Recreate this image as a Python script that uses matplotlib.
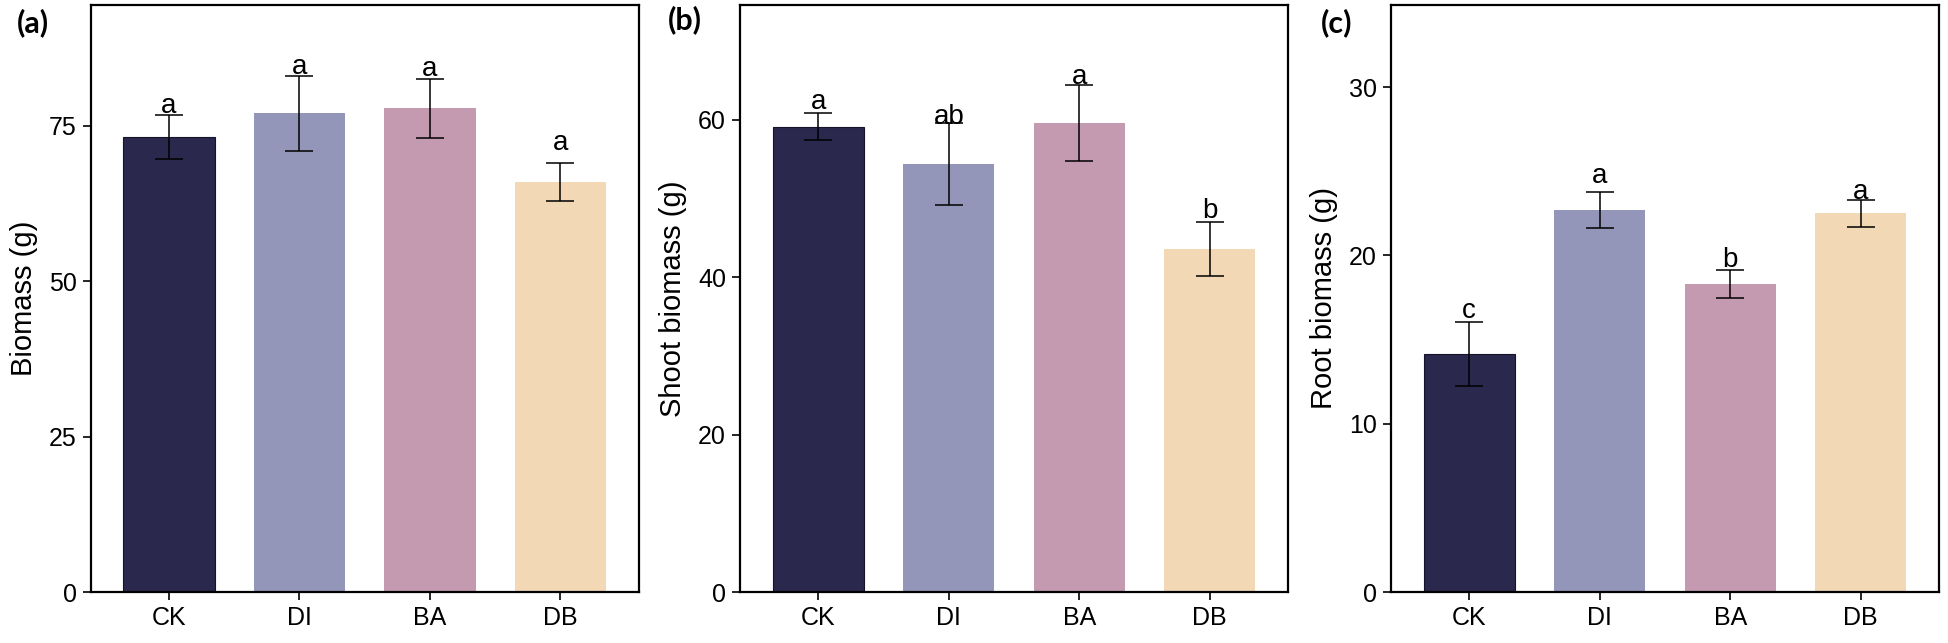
import numpy as np
import matplotlib
matplotlib.use("Agg")
import matplotlib.pyplot as plt

# --- данные ---
GROUPS = ["CK", "DI", "BA", "DB"]
COLORS = ["#2b284e", "#9396b9", "#c49ab1", "#f2d8b5"]
EDGES = ["#15132a", "none", "none", "none"]

TOTAL_MEAN = [73.2, 77.0, 77.8, 66.0]
TOTAL_SD = [3.5, 6.05, 4.8, 3.1]
TOTAL_LETTERS = ["a", "a", "a", "a"]
TOTAL_LETTER_Y = [78.2, 84.4, 84.1, 72.2]

SHOOT_MEAN = [59.1, 54.4, 59.6, 43.6]
SHOOT_SD = [1.7, 5.2, 4.85, 3.45]
SHOOT_LETTERS = ["a", "ab", "a", "b"]
SHOOT_LETTER_Y = [62.3, 60.3, 65.4, 48.4]

ROOT_MEAN = [14.15, 22.7, 18.3, 22.5]
ROOT_SD = [1.9, 1.07, 0.83, 0.82]
ROOT_LETTERS = ["c", "a", "b", "a"]
ROOT_LETTER_Y = [16.7, 24.7, 19.7, 23.75]

plt.rcParams["font.family"] = ["Liberation Sans", "DejaVu Sans"]

W, H = 1949, 643
fig = plt.figure(figsize=(W / 100, H / 100), dpi=100)

panels = [
    # (left px, mean, sd, letters, letter y, ylim, ticks, ylabel, tag, tag x, tag y)
    (90.7, TOTAL_MEAN, TOTAL_SD, TOTAL_LETTERS, TOTAL_LETTER_Y, 94.5, [0, 25, 50, 75],
     "Biomass (g)", "(a)", 17, 23),
    (740, SHOOT_MEAN, SHOOT_SD, SHOOT_LETTERS, SHOOT_LETTER_Y, 74.6, [0, 20, 40, 60],
     "Shoot biomass (g)", "(b)", 668, 20),
    (1391, ROOT_MEAN, ROOT_SD, ROOT_LETTERS, ROOT_LETTER_Y, 34.9, [0, 10, 20, 30],
     "Root biomass (g)", "(c)", 1321, 23),
]

bottom_px, top_px = 592, 4.7
ax_w = 548

for left, mean, sd, letters, ly, ytop, ticks, ylabel, tag, tx, ty in panels:
    ax = fig.add_axes([left / W, (H - bottom_px) / H, ax_w / W, (bottom_px - top_px) / H])
    x = np.arange(len(GROUPS))
    ax.bar(x, mean, width=0.7, color=COLORS, edgecolor=EDGES, linewidth=0.8, zorder=2)
    ax.errorbar(x, mean, yerr=sd, fmt="none", ecolor="black", elinewidth=1.1,
                capsize=10, capthick=1.1, zorder=3)
    for xi, lab, yy in zip(x, letters, ly):
        ax.text(xi, yy, lab, ha="center", va="center", fontsize=20, zorder=4)
    ax.set_xlim(-0.6, len(GROUPS) - 0.4)
    ax.set_ylim(0, ytop)
    ax.set_yticks(ticks)
    ax.set_xticks(x)
    ax.set_xticklabels(GROUPS)
    ax.set_ylabel(ylabel, fontsize=21, labelpad=8)
    ax.tick_params(axis="both", labelsize=18, length=6, width=1.2, pad=4, colors="black")
    for sp in ax.spines.values():
        sp.set_linewidth(1.6)
        sp.set_color("black")
    fig.text(tx / W, 1 - ty / H, tag, fontsize=22, fontweight="bold",
             family=["Lato", "DejaVu Sans"], ha="left", va="center")

fig.savefig("out.png", dpi=100)
